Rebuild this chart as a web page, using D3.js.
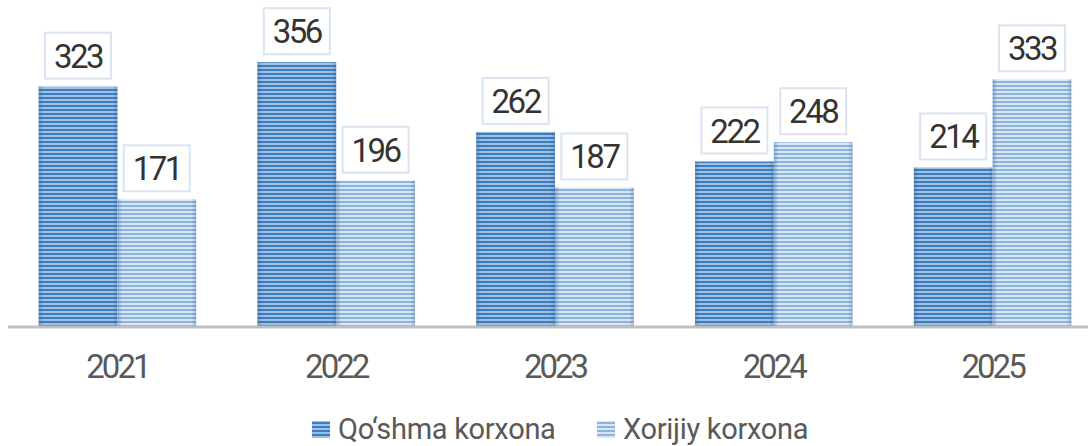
<!DOCTYPE html>
<html>
<head>
<meta charset="utf-8">
<script src="https://cdn.jsdelivr.net/npm/d3@7"></script>
<style>
  body { margin: 0; background: #fff; }
  svg { display: block; font-family: Roboto, 'Noto Sans', sans-serif; }
</style>
</head>
<body>
<svg id="chart" width="1088" height="446"></svg>
<script>
const years = ['2021', '2022', '2023', '2024', '2025'];
const qoshma = [323, 356, 262, 222, 214];
const xorijiy = [171, 196, 187, 248, 333];
const seriesNames = ['Qo‘shma korxona', 'Xorijiy korxona'];

const width = 1088;
const height = 446;
const baseY = 326;

const svg = d3.select('#chart');
const defs = svg.append('defs');

// horizontal stripes used for the bars
function stripes(id, dark, light) {
  const p = defs.append('pattern')
    .attr('id', id)
    .attr('patternUnits', 'userSpaceOnUse')
    .attr('width', 8).attr('height', 4);
  p.append('rect').attr('width', 8).attr('height', 4).attr('fill', light);
  p.append('rect').attr('y', 1).attr('width', 8).attr('height', 2).attr('fill', dark);
}
stripes('pDark', '#3f7cbc', '#9dc0e4');
stripes('pLight', '#8db3df', '#d9e6f5');

// soft darker edges on the bars
const edge = defs.append('linearGradient').attr('id', 'edge');
edge.append('stop').attr('offset', '0%').attr('stop-color', '#2a5f96').attr('stop-opacity', 0.35);
edge.append('stop').attr('offset', '6%').attr('stop-color', '#2a5f96').attr('stop-opacity', 0);
edge.append('stop').attr('offset', '94%').attr('stop-color', '#2a5f96').attr('stop-opacity', 0);
edge.append('stop').attr('offset', '100%').attr('stop-color', '#2a5f96').attr('stop-opacity', 0.3);

const x = d3.scaleBand().domain(years).range([8, 1102]).paddingInner(0.28).paddingOuter(0.14);
const xs = d3.scaleBand().domain([0, 1]).range([0, x.bandwidth()]);
const y = d3.scaleLinear().domain([0, 440]).range([baseY, 0]);

const data = years.map((yr, i) => ({ year: yr, vals: [qoshma[i], xorijiy[i]] }));
const fills = ['url(#pDark)', 'url(#pLight)'];

const groups = svg.append('g').selectAll('g').data(data).enter()
  .append('g')
  .attr('transform', (d) => `translate(${x(d.year)},0)`);

groups.each(function (d) {
  const g = d3.select(this);
  d.vals.forEach((v, s) => {
    const bx = xs(s);
    const bw = xs.bandwidth();
    g.append('rect')
      .attr('x', bx).attr('y', y(v))
      .attr('width', bw).attr('height', baseY - y(v))
      .attr('fill', fills[s]);
    g.append('rect')
      .attr('x', bx).attr('y', y(v))
      .attr('width', bw).attr('height', baseY - y(v))
      .attr('fill', 'url(#edge)');
    // value label in a framed box
    const boxW = 66;
    const boxH = 46;
    const cx = bx + bw / 2;
    const top = y(v) - 8 - boxH;
    g.append('rect')
      .attr('x', cx - boxW / 2).attr('y', top)
      .attr('width', boxW).attr('height', boxH)
      .attr('fill', '#fff')
      .attr('stroke', '#dae4f3').attr('stroke-width', 2);
    g.append('text')
      .attr('x', cx).attr('y', top + boxH / 2 + 12)
      .attr('text-anchor', 'middle')
      .attr('font-size', 33).attr('letter-spacing', -2.5)
      .attr('fill', '#333')
      .text(v);
  });
});

// baseline
svg.append('line')
  .attr('x1', 8).attr('x2', width)
  .attr('y1', baseY + 1).attr('y2', baseY + 1)
  .attr('stroke', '#bfbfbf').attr('stroke-width', 3);

// year labels
const xAxis = d3.axisBottom(x).tickSize(0).tickPadding(0);
const ax = svg.append('g').attr('transform', `translate(0,${baseY})`).call(xAxis);
ax.select('.domain').remove();
ax.selectAll('text')
  .attr('y', 52).attr('dy', 0)
  .attr('font-size', 33).attr('letter-spacing', -3)
  .attr('font-family', 'Roboto, sans-serif')
  .attr('fill', '#595959');

// legend
const legendX = [312, 597];
const legend = svg.append('g').selectAll('g').data(seriesNames).enter()
  .append('g')
  .attr('transform', (d, i) => `translate(${legendX[i]},421)`);
legend.append('rect')
  .attr('width', 18).attr('height', 17)
  .attr('fill', (d, i) => fills[i]);
legend.append('text')
  .attr('x', 26).attr('y', 18)
  .attr('font-size', 29).attr('letter-spacing', -0.3)
  .attr('fill', '#595959')
  .text((d) => d);
</script>
</body>
</html>
